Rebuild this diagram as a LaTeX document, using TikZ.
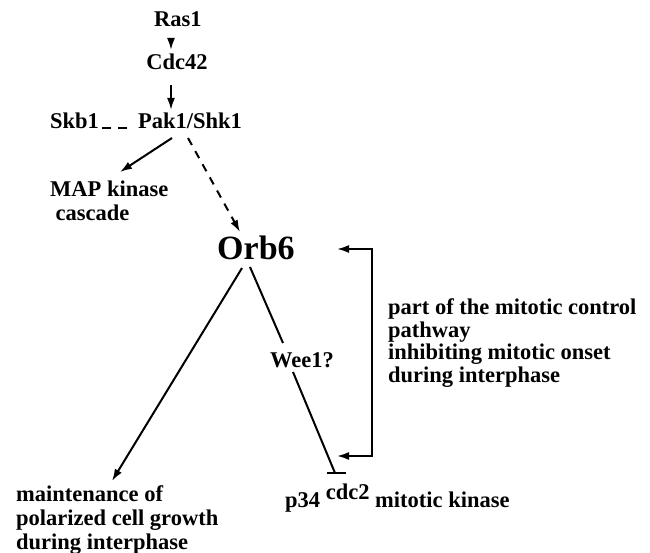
\documentclass[tikz,border=0pt]{standalone}
\usepackage{fontspec}
\setmainfont{Liberation Serif}
\usetikzlibrary{arrows.meta,calc}
\begin{document}
\begin{tikzpicture}[x=1pt,y=-1pt,
  tx/.style={inner sep=0pt, font=\fontsize{22.5}{24}\selectfont\bfseries},
  big/.style={inner sep=0pt, font=\fontsize{34}{36}\selectfont\bfseries},
  ln/.style={line width=2pt},
  arr/.style={ln, -{Latex[length=12pt,width=8pt]}},
  darr/.style={arr, dash pattern=on 8pt off 7pt},
  inh/.style={ln}]
\fill[white] (0,0) rectangle (650,553);
\useasboundingbox (0,0) rectangle (650,553);

\node[tx, anchor=base] (ras) at (178,27) {Ras1};
\node[tx, anchor=base] (cdc) at (177,70) {Cdc42};
\node[tx, anchor=base west] (skb) at (50,129) {Skb1};
\node[tx, anchor=base west] (pak) at (138,129) {Pak1/Shk1};
\node[tx, anchor=base west, align=left] (map) at (50,221) {MAP kinase\\\hspace*{5.5pt}cascade};
\node[big, anchor=base west] (orb) at (217,260) {Orb6};
\node[tx, anchor=base west] (wee) at (270,367) {Wee1?};
\node[tx, anchor=base west, align=left, font=\fontsize{22.5}{22.5}\selectfont\bfseries] (ctrl) at (388,382)
  {part of the mitotic control\\pathway\\inhibiting mitotic onset\\during interphase};
\node[tx, anchor=base west] (p34) at (285,507) {p34 \raisebox{8pt}{cdc2} mitotic kinase};
\node[tx, anchor=base west, align=left] (maint) at (16,549)
  {maintenance of\\polarized cell growth\\during interphase};

\draw[arr] ($(ras.base)+(-7,11)$) -- ($(cdc.base)+(-6,-20)$);
\draw[arr] ($(cdc.base)+(-6,15)$) -- ($(pak.base west)+(33,-19)$);
\draw[ln, dash pattern=on 9pt off 7pt] ($(skb.base west)+(52,-1)$) -- ($(pak.base west)+(-11,-1)$);
\draw[arr] ($(pak.base west)+(34,9)$) -- ($(map.base west)+(70,-49)$);
\draw[darr] ($(pak.base west)+(50,9)$) -- ($(orb.base west)+(23,-28)$);
\draw[arr] ($(orb.base west)+(25,8)$) -- ($(maint.base west)+(96,-68)$);
\draw[ln] ($(orb.base west)+(33,7)$) -- ($(wee.base west)+(13,-24)$);
\draw[ln] ($(wee.base west)+(23,5)$) -- ($(p34.base west)+(50,-34)$);
\draw[ln] ($(p34.base west)+(42,-34)$) -- ($(p34.base west)+(61,-34)$);
\draw[ln, {Latex[length=12pt,width=8pt]}-{Latex[length=12pt,width=8pt]}]
  ($(p34.base west)+(52,-51)$) -- ($(ctrl.base west)+(-16,74)$)
  -- ($(ctrl.base west)+(-16,-133)$) -- ($(orb.base west)+(120,-11)$);
\end{tikzpicture}
\end{document}
